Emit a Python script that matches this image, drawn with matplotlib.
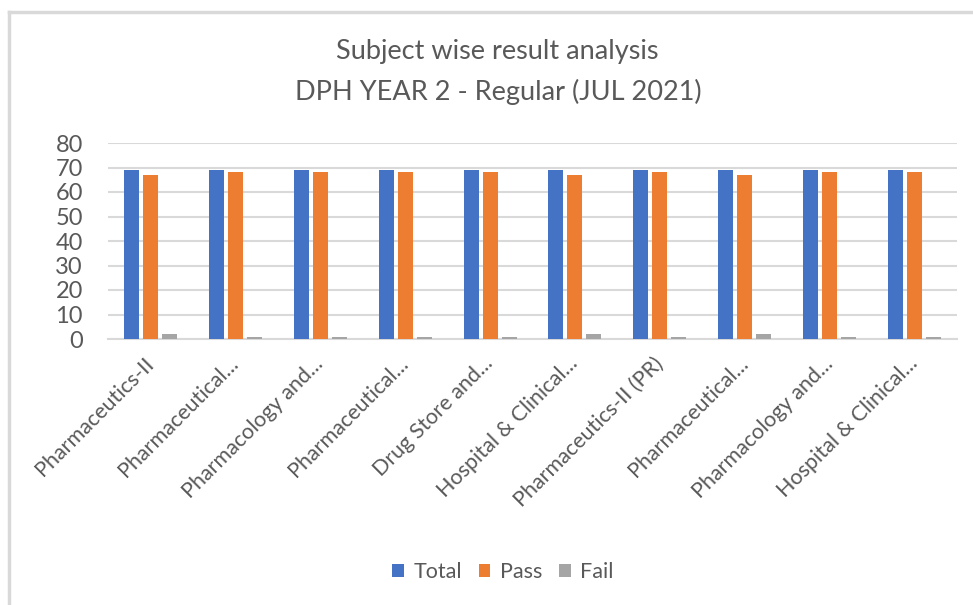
import matplotlib
matplotlib.use("Agg")
import matplotlib.pyplot as plt
import matplotlib.transforms as mtransforms
import numpy as np
from matplotlib.lines import Line2D
from matplotlib.patches import Patch

plt.rcParams['font.family'] = ['Lato', 'DejaVu Sans']

categories = ["Pharmaceutics-II", "Pharmaceutical...", "Pharmacology and...",
              "Pharmaceutical...", "Drug Store and...", "Hospital & Clinical...",
              "Pharmaceutics-II (PR)", "Pharmaceutical...", "Pharmacology and...",
              "Hospital & Clinical..."]
total = [69, 69, 69, 69, 69, 69, 69, 69, 69, 69]
passed = [67, 68, 68, 68, 68, 67, 68, 67, 68, 68]
failed = [2, 1, 1, 1, 1, 2, 1, 2, 1, 1]
series_names = ["Total", "Pass", "Fail"]
colors = ["#4472C4", "#ED7D31", "#A5A5A5"]
yticks = [0, 10, 20, 30, 40, 50, 60, 70, 80]

W, H = 973, 605
fig = plt.figure(figsize=(W / 100, H / 100), dpi=100)
ax = fig.add_axes([108 / W, 1 - 339 / H, (957 - 108) / W, (339 - 143) / H])

x = np.arange(len(categories))
pitch = 0.224
bw = 0.177
for i, (vals, c) in enumerate(zip([total, passed, failed], colors)):
    ax.bar(x + (i - 1) * pitch, vals, width=bw, color=c, zorder=3)

ax.set_xlim(-0.5, len(categories) - 0.5)
ax.set_ylim(0, 80)
ax.set_yticks(yticks)
ax.set_yticklabels([str(v) for v in yticks], fontsize=17, color="#595959")
ax.yaxis.grid(True, color="#D9D9D9", linewidth=1.5, zorder=0)
ax.set_axisbelow(True)
for s in ["top", "right", "left"]:
    ax.spines[s].set_visible(False)
ax.spines["bottom"].set_color("#D9D9D9")
ax.spines["bottom"].set_linewidth(1.5)
ax.tick_params(axis="both", length=0)
ax.tick_params(axis="y", pad=18)
ax.set_xticks(x)
ax.set_xticklabels(categories, rotation=45, ha="right", va="top",
                   rotation_mode="anchor", fontsize=15.5, color="#595959")
ax.tick_params(axis="x", pad=6)
offset = mtransforms.ScaledTranslation(-7 / 100, -6 / 100, fig.dpi_scale_trans)
for lbl in ax.get_xticklabels():
    lbl.set_transform(lbl.get_transform() + offset)

fig.text(497 / W, 1 - 52 / H, "Subject wise result analysis", ha="center", va="center",
         fontsize=19.5, color="#595959")
fig.text(498 / W, 1 - 92 / H, "DPH YEAR 2 - Regular (JUL 2021)", ha="center", va="center",
         fontsize=19.5, color="#595959")

handles = [Patch(facecolor=c, edgecolor="none") for c in colors]
fig.legend(handles, series_names, loc="center", bbox_to_anchor=(503 / W, 1 - 572 / H),
           ncol=3, frameon=False, fontsize=15.5, labelcolor="#595959",
           handlelength=0.55, handleheight=0.55, handletextpad=0.45, columnspacing=0.75)

# chart area border (left and top)
fig.add_artist(Line2D([9 / W, 9 / W], [0, 1 - 12 / H], transform=fig.transFigure,
                      color="#D9D9D9", linewidth=2.5))
fig.add_artist(Line2D([9 / W, 1], [1 - 12 / H, 1 - 12 / H], transform=fig.transFigure,
                      color="#D9D9D9", linewidth=2.5))

fig.savefig("out.png", dpi=100)
